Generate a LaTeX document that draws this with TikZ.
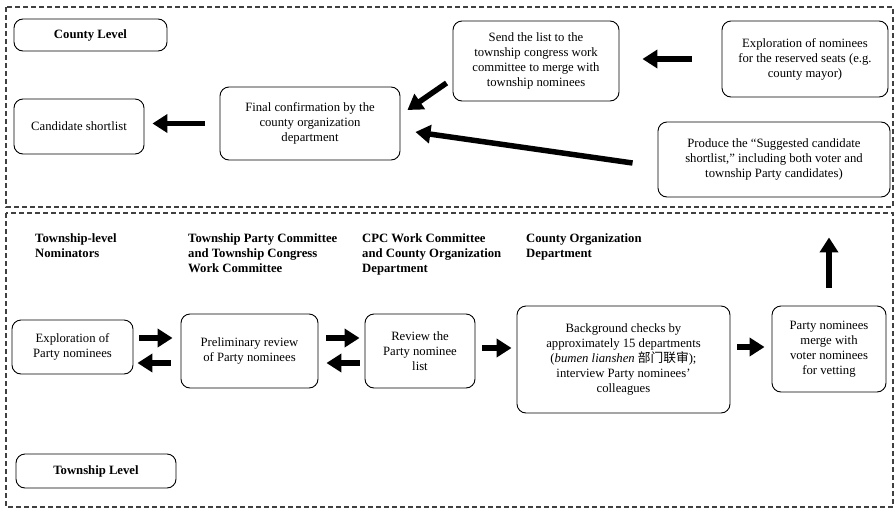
\documentclass[tikz,border=0pt]{standalone}
\usepackage{fontspec}
\setmainfont{Liberation Serif}
\newfontfamily\cjkfont{Noto Sans CJK SC}
\usetikzlibrary{arrows.meta}

\tikzset{
  stage/.style={draw, rounded corners=9pt, line width=0.9pt, align=center, inner sep=2pt,
    font=\fontsize{12.7}{15}\selectfont},
  levelbox/.style={stage, font=\fontsize{12.7}{15}\selectfont\bfseries},
  head/.style={anchor=north west, align=left, inner sep=0pt,
    font=\fontsize{12.7}{15}\selectfont\bfseries},
  bigarrow/.style={line width=5.5pt, -{Triangle[length=15pt,width=18pt]}},
  frame/.style={line width=1.2pt, dash pattern=on 5pt off 3pt, black!75}
}

\begin{document}
\begin{tikzpicture}[x=1pt,y=-1pt]
  \useasboundingbox (0,0) rectangle (895,509);

  % dashed frames for the two levels
  \draw[frame] (6,7) rectangle (893,207);
  \draw[frame] (6,213) rectangle (893,507);

  % county level
  \node[levelbox, minimum width=153pt, minimum height=32pt] (county) at (90.5,35) {County Level};
  \node[stage, minimum width=130pt, minimum height=55pt] (cand) at (79,126.5) {Candidate shortlist};
  \node[stage, minimum width=180pt, minimum height=73pt] (final) at (310,123.5)
    {Final confirmation by the\\county organization\\department};
  \node[stage, minimum width=166pt, minimum height=80pt] (send) at (536,61)
    {Send the list to the\\township congress work\\committee to merge with\\township nominees};
  \node[stage, minimum width=166pt, minimum height=76pt] (reserved) at (805,59)
    {Exploration of nominees\\for the reserved seats (e.g.\\county mayor)};
  \node[stage, minimum width=232pt, minimum height=75pt] (produce) at (774,159.5)
    {Produce the ``Suggested candidate\\shortlist,'' including both voter and\\township Party candidates)};

  % township level headers
  \node[head] (hnom) at (35,233) {Township-level\\Nominators};
  \node[head] (htpc) at (188,233) {Township Party Committee\\and Township Congress\\Work Committee};
  \node[head] (hcpc) at (362,233) {CPC Work Committee\\and County Organization\\Department};
  \node[head] (hcod) at (526,233) {County Organization\\Department};

  % township level steps
  \node[stage, minimum width=121pt, minimum height=54pt] (expl) at (72.5,347)
    {Exploration of\\Party nominees};
  \node[stage, minimum width=137pt, minimum height=74pt] (prelim) at (249.5,351)
    {Preliminary review\\of Party nominees};
  \node[stage, minimum width=110pt, minimum height=74pt] (review) at (420,351)
    {Review the\\Party nominee\\list};
  \node[stage, minimum width=213pt, minimum height=107pt] (bg) at (623.5,359.5)
    {Background checks by\\approximately 15 departments\\(\textit{bumen lianshen} {\cjkfont 部门联审});\\interview Party nominees'\\colleagues};
  \node[stage, minimum width=114pt, minimum height=86pt] (merge) at (829,349)
    {Party nominees\\merge with\\voter nominees\\for vetting};
  \node[levelbox, minimum width=160pt, minimum height=34pt] (township) at (96,471) {Township Level};

  % arrows in the county level
  \draw[bigarrow, shorten <=15pt, shorten >=8pt] (final.west) -- (final.west -| cand.east);
  \draw[bigarrow, shorten <=30pt, shorten >=23pt] (reserved.west) -- (reserved.west -| send.east);
  \draw[bigarrow] ([shift={(-6,22)}]send.west) -- ([shift={(7,-13.5)}]final.east);
  \draw[bigarrow] ([shift={(-25,3.5)}]produce.west) -- ([shift={(15,8.5)}]final.east);

  % arrows in the township level
  \draw[bigarrow, shorten <=6pt, shorten >=8pt] ([shift={(0,-9)}]expl.east) -- ([shift={(0,-9)}]expl.east -| prelim.west);
  \draw[bigarrow, shorten <=10pt, shorten >=4pt] ([shift={(0,16)}]expl.east -| prelim.west) -- ([shift={(0,16)}]expl.east);
  \draw[bigarrow, shorten <=8pt, shorten >=5pt] ([shift={(0,-13)}]prelim.east) -- ([shift={(0,-13)}]prelim.east -| review.west);
  \draw[bigarrow, shorten <=5pt, shorten >=8pt] ([shift={(0,12)}]prelim.east -| review.west) -- ([shift={(0,12)}]prelim.east);
  \draw[bigarrow, shorten <=7pt, shorten >=5pt] ([shift={(0,-3)}]review.east) -- ([shift={(0,-3)}]review.east -| bg.west);
  \draw[bigarrow, shorten <=7pt, shorten >=7pt] ([shift={(0,-2)}]merge.west -| bg.east) -- ([shift={(0,-2)}]merge.west);
  \draw[bigarrow, shorten <=18pt, shorten >=40pt] (merge.north) -- (merge.north |- produce.south);

\end{tikzpicture}
\end{document}
